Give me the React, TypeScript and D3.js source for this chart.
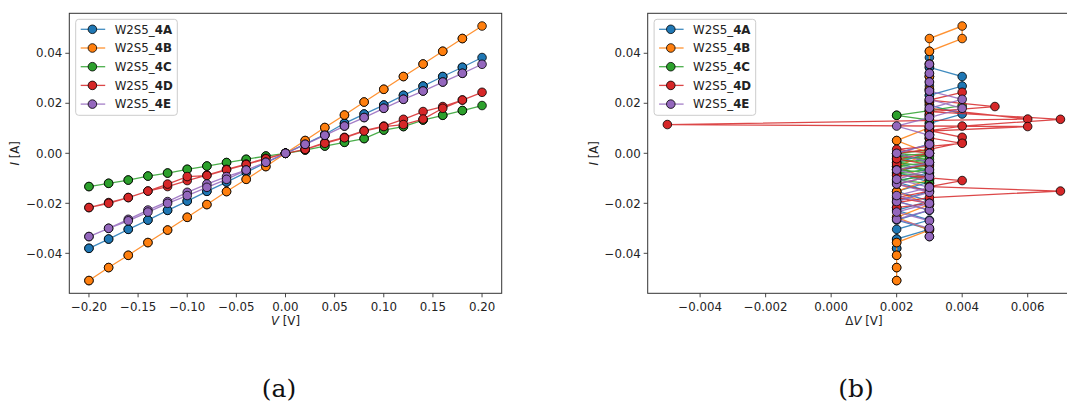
import React from "react";
import * as d3 from "d3";

// Voltage sweep: forward (-0.2 -> 0.2) then back (0.18 -> -0.2)
const V_FWD = [-0.2, -0.18, -0.16, -0.14, -0.12, -0.1, -0.08, -0.06, -0.04, -0.02, 0, 0.02, 0.04, 0.06, 0.08, 0.1, 0.12, 0.14, 0.16, 0.18, 0.2];
const V_BACK = [0.18, 0.16, 0.14, 0.12, 0.1, 0.08, 0.06, 0.04, 0.02, 0, -0.02, -0.04, -0.06, -0.08, -0.1, -0.12, -0.14, -0.16, -0.18, -0.2];

const SERIES_LABELS = ["4A", "4B", "4C", "4D", "4E"];
const SERIES_COLORS = ["#1f77b4", "#ff7f0e", "#2ca02c", "#d62728", "#9467bd"];

// Currents [A]
const I_4A_FWD = [-0.038, -0.0343, -0.0304, -0.0267, -0.0228, -0.0191, -0.0152, -0.0115, -0.0076, -0.0037, 0, 0.0037, 0.0075, 0.012, 0.0157, 0.0193, 0.0232, 0.0269, 0.0307, 0.0344, 0.0383];
const I_4A_BACK = [0.0344, 0.0307, 0.0269, 0.0232, 0.0193, 0.0157, 0.012, 0.0075, 0.0037, 0, -0.0037, -0.0076, -0.0115, -0.0152, -0.0191, -0.0228, -0.0267, -0.0304, -0.0343, -0.038];
const I_4B_FWD = [-0.0509, -0.0457, -0.0408, -0.0357, -0.0307, -0.0256, -0.0205, -0.0153, -0.0104, -0.0053, 0, 0.0051, 0.0103, 0.0153, 0.0205, 0.0256, 0.0307, 0.0357, 0.0408, 0.0459, 0.0509];
const I_4B_BACK = [0.0459, 0.0408, 0.0357, 0.0307, 0.0256, 0.0205, 0.0153, 0.0103, 0.0051, 0, -0.0053, -0.0104, -0.0153, -0.0205, -0.0256, -0.0307, -0.0357, -0.0408, -0.0457, -0.0509];
const I_4C_FWD = [-0.0133, -0.012, -0.0107, -0.0091, -0.0079, -0.0064, -0.0051, -0.0037, -0.0024, -0.0011, 0, 0.0013, 0.0029, 0.0044, 0.0059, 0.0093, 0.0107, 0.0133, 0.0152, 0.0171, 0.0191];
const I_4C_BACK = [0.0171, 0.0152, 0.0133, 0.0107, 0.0093, 0.0059, 0.0044, 0.0029, 0.0013, 0, -0.0011, -0.0024, -0.0037, -0.0051, -0.0064, -0.0079, -0.0091, -0.0107, -0.012, -0.0133];
const I_4D_FWD = [-0.0217, -0.0197, -0.0177, -0.0151, -0.0133, -0.0109, -0.0087, -0.0064, -0.0043, -0.002, 0, 0.0016, 0.0043, 0.0064, 0.0091, 0.0109, 0.0136, 0.0167, 0.0187, 0.0213, 0.0244];
const I_4D_BACK = [0.0213, 0.018, 0.0137, 0.0115, 0.0107, 0.0089, 0.0062, 0.004, 0.0016, 0, -0.0022, -0.0045, -0.0066, -0.0089, -0.0093, -0.0123, -0.0151, -0.0177, -0.02, -0.0217];
const I_4E_FWD = [-0.0333, -0.03, -0.0264, -0.0227, -0.0193, -0.0156, -0.0123, -0.0093, -0.0067, -0.0036, 0, 0.0036, 0.0072, 0.0109, 0.0143, 0.018, 0.0216, 0.0249, 0.0285, 0.032, 0.0356];
const I_4E_BACK = [0.032, 0.0285, 0.0249, 0.0216, 0.018, 0.0143, 0.0109, 0.0072, 0.0036, 0, -0.0036, -0.0067, -0.0104, -0.0136, -0.0169, -0.02, -0.0235, -0.027, -0.03, -0.0333];

// Voltage deviation ΔV [V]
const DV_4A_FWD = [0.002, 0.002, 0.003, 0.002, 0.003, 0.002, 0.003, 0.002, 0.003, 0.002, 0.003, 0.003, 0.003, 0.003, 0.004, 0.003, 0.003, 0.003, 0.003, 0.003, 0.003];
const DV_4A_BACK = [0.003, 0.004, 0.004, 0.003, 0.003, 0.003, 0.003, 0.003, 0.003, 0.002, 0.003, 0.002, 0.003, 0.002, 0.003, 0.002, 0.003, 0.002, 0.002, 0.002];
const DV_4B_FWD = [0.002, 0.002, 0.002, 0.002, 0.003, 0.002, 0.003, 0.002, 0.003, 0.002, 0.003, 0.002, 0.003, 0.003, 0.003, 0.003, 0.003, 0.003, 0.003, 0.003, 0.004];
const DV_4B_BACK = [0.004, 0.003, 0.003, 0.003, 0.003, 0.003, 0.003, 0.003, 0.002, 0.003, 0.002, 0.003, 0.002, 0.003, 0.002, 0.003, 0.002, 0.002, 0.002, 0.002];
const DV_4C_FWD = [0.003, 0.003, 0.002, 0.003, 0.002, 0.003, 0.002, 0.003, 0.002, 0.003, 0.002, 0.003, 0.003, 0.003, 0.003, 0.003, 0.003, 0.003, 0.002, 0.003, 0.004];
const DV_4C_BACK = [0.003, 0.002, 0.003, 0.003, 0.003, 0.003, 0.003, 0.003, 0.003, 0.003, 0.002, 0.003, 0.002, 0.003, 0.002, 0.003, 0.003, 0.003, 0.003, 0.003];
const DV_4D_FWD = [0.002, 0.002, 0.003, 0.007, 0.003, 0.004, 0.002, 0.002, 0.002, 0.002, 0.002, 0.003, 0.004, 0.004, 0.003, 0.004, 0.007, 0.003, 0.005, 0.003, 0.004];
const DV_4D_BACK = [0.003, 0.003, 0.006, -0.005, 0.006, 0.003, 0.003, 0.004, 0.002, 0.003, 0.002, 0.003, 0.002, 0.002, 0.003, 0.002, 0.003, 0.002, 0.003, 0.002];
const DV_4E_FWD = [0.003, 0.003, 0.002, 0.003, 0.002, 0.003, 0.002, 0.003, 0.002, 0.003, 0.002, 0.003, 0.003, 0.002, 0.003, 0.004, 0.003, 0.003, 0.003, 0.003, 0.003];
const DV_4E_BACK = [0.003, 0.003, 0.003, 0.004, 0.003, 0.003, 0.003, 0.003, 0.003, 0.003, 0.003, 0.003, 0.002, 0.003, 0.002, 0.003, 0.002, 0.003, 0.003, 0.003];

const X_TICKS_A = [-0.2, -0.15, -0.1, -0.05, 0, 0.05, 0.1, 0.15, 0.2];
const X_TICKS_B = [-0.004, -0.002, 0, 0.002, 0.004, 0.006];
const Y_TICKS = [-0.04, -0.02, 0, 0.02, 0.04];

type Pt = { v: number; i: number; dv: number };
type Series = { label: string; color: string; pts: Pt[] };

const RAW = [
  [I_4A_FWD, I_4A_BACK, DV_4A_FWD, DV_4A_BACK],
  [I_4B_FWD, I_4B_BACK, DV_4B_FWD, DV_4B_BACK],
  [I_4C_FWD, I_4C_BACK, DV_4C_FWD, DV_4C_BACK],
  [I_4D_FWD, I_4D_BACK, DV_4D_FWD, DV_4D_BACK],
  [I_4E_FWD, I_4E_BACK, DV_4E_FWD, DV_4E_BACK],
];

const VS = V_FWD.concat(V_BACK);
const SERIES: Series[] = RAW.map((r, k) => {
  const I = r[0].concat(r[1]);
  const DV = r[2].concat(r[3]);
  return {
    label: SERIES_LABELS[k],
    color: SERIES_COLORS[k],
    pts: VS.map((v, j) => ({ v, i: I[j], dv: DV[j] })),
  };
});

const SANS: React.CSSProperties = { fontFamily: "'DejaVu Sans', 'Liberation Sans', sans-serif", fontSize: "11.8px" };
const SERIF: React.CSSProperties = { fontFamily: "'DejaVu Serif', 'Liberation Serif', serif", fontSize: "25px", fontWeight: 300 };
const minus = (s: string) => s.replace(/-/g, "\u2212");

function padDomain(vals: number[]): [number, number] {
  const [a, b] = d3.extent(vals) as [number, number];
  const m = (b - a) * 0.05;
  return [a - m, b + m];
}

const AX_Y0 = 13.3;
const AX_H = 280;
const AX_W = 432.4;

function Panel(props: {
  x0: number;
  getX: (p: Pt) => number;
  xTicks: number[];
  xFmt: (n: number) => string;
  xLabel: React.ReactNode;
  caption: string;
  captionX: number;
}) {
  const { x0, getX, xTicks, xFmt, xLabel, caption, captionX } = props;
  const allX = SERIES.flatMap((s) => s.pts.map(getX));
  const allY = SERIES.flatMap((s) => s.pts.map((p) => p.i));
  const x = d3.scaleLinear().domain(padDomain(allX)).range([x0, x0 + AX_W]);
  const y = d3.scaleLinear().domain(padDomain(allY)).range([AX_Y0 + AX_H, AX_Y0]);
  const line = d3
    .line<Pt>()
    .x((p) => x(getX(p)))
    .y((p) => y(p.i));
  const yb = AX_Y0 + AX_H;
  const yFmt = d3.format(".2f");
  const legX = x0 + 6.4;
  const legY = 19.3;
  return (
    <g>
      {SERIES.map((s) => (
        <g key={s.label}>
          <path d={line(s.pts) || ""} fill="none" stroke={s.color} strokeWidth={1.3} strokeOpacity={0.85} />
          {s.pts.map((p, j) => (
            <circle key={j} cx={x(getX(p))} cy={y(p.i)} r={4.3} fill={s.color} stroke="#000" strokeWidth={0.8} />
          ))}
        </g>
      ))}
      <rect x={x0} y={AX_Y0} width={AX_W} height={AX_H} fill="none" stroke="#333" strokeWidth={1} />
      {xTicks.map((t) => (
        <g key={t}>
          <line x1={x(t)} x2={x(t)} y1={yb} y2={yb + 4} stroke="#333" strokeWidth={0.9} />
          <text x={x(t)} y={yb + 17.5} textAnchor="middle" style={SANS} fill="#222">
            {minus(xFmt(t))}
          </text>
        </g>
      ))}
      {Y_TICKS.map((t) => (
        <g key={t}>
          <line x1={x0 - 4} x2={x0} y1={y(t)} y2={y(t)} stroke="#333" strokeWidth={0.9} />
          <text x={x0 - 7} y={y(t) + 4.2} textAnchor="end" style={SANS} fill="#222">
            {minus(yFmt(t))}
          </text>
        </g>
      ))}
      <text x={x0 + AX_W / 2} y={yb + 32} textAnchor="middle" style={SANS} fill="#222">
        {xLabel}
      </text>
      <text
        transform={`translate(${x0 - 50},${AX_Y0 + AX_H / 2}) rotate(-90)`}
        textAnchor="middle"
        style={SANS}
        fill="#222"
      >
        <tspan fontStyle="italic">I</tspan>
        <tspan> [A]</tspan>
      </text>
      <rect x={legX} y={legY} width={101.6} height={96} rx={3} fill="#fff" fillOpacity={0.8} stroke="#ccc" strokeWidth={1} />
      {SERIES.map((s, k) => {
        const ry = 29.3 + k * 18.7;
        return (
          <g key={s.label}>
            <line x1={legX + 5} x2={legX + 29.5} y1={ry} y2={ry} stroke={s.color} strokeWidth={1.3} strokeOpacity={0.85} />
            <circle cx={legX + 16.7} cy={ry} r={4.3} fill={s.color} stroke="#000" strokeWidth={0.8} />
            <text x={legX + 39} y={ry + 4.2} style={SANS} fill="#222">
              <tspan>W2S5_</tspan>
              <tspan fontWeight="bold">{s.label}</tspan>
            </text>
          </g>
        );
      })}
      <text x={captionX} y={397} textAnchor="middle" style={SERIF} fill="#111">
        {caption}
      </text>
    </g>
  );
}

export default function App() {
  return (
    <svg width={1067} height={405} style={{ position: "absolute", left: 0, top: 0, background: "#fff" }}>
      <Panel
        x0={69.3}
        getX={(p) => p.v}
        xTicks={X_TICKS_A}
        xFmt={d3.format(".2f")}
        xLabel={
          <>
            <tspan fontStyle="italic">V</tspan>
            <tspan> [V]</tspan>
          </>
        }
        caption="(a)"
        captionX={279}
      />
      <Panel
        x0={647.7}
        getX={(p) => p.dv}
        xTicks={X_TICKS_B}
        xFmt={d3.format(".3f")}
        xLabel={
          <>
            <tspan>Δ</tspan>
            <tspan fontStyle="italic">V</tspan>
            <tspan> [V]</tspan>
          </>
        }
        caption="(b)"
        captionX={856}
      />
    </svg>
  );
}
